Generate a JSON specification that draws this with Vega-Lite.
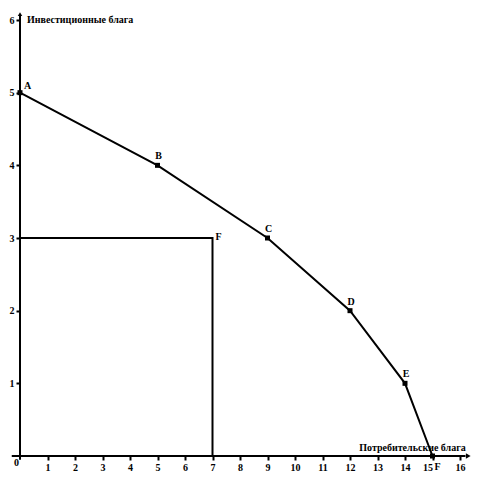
{
  "$schema": "https://vega.github.io/schema/vega-lite/v6.json",
  "width": 440,
  "height": 436,
  "autosize": {"type": "none"},
  "padding": {"left": 20, "top": 20, "right": 20, "bottom": 24},
  "background": "white",
  "config": {"view": {"stroke": null}, "font": "Liberation Serif", "text": {"font": "Liberation Serif", "fontWeight": "bold", "fontSize": 10, "color": "black"}},
  "datasets": {
    "ppf": [
      {"good_c": 0, "good_i": 5, "point": "A"},
      {"good_c": 5, "good_i": 4, "point": "B"},
      {"good_c": 9, "good_i": 3, "point": "C"},
      {"good_c": 12, "good_i": 2, "point": "D"},
      {"good_c": 14, "good_i": 1, "point": "E"},
      {"good_c": 15, "good_i": 0, "point": "F"}
    ],
    "inner": [
      {"good_c": 0, "good_i": 3, "order": 1, "point": ""},
      {"good_c": 7, "good_i": 3, "order": 2, "point": "F"},
      {"good_c": 7, "good_i": 0, "order": 3, "point": ""}
    ],
    "axislines": [
      {"good_c": -0.3, "good_c2": 16.2, "good_i": 0, "good_i2": 0, "part": "x"},
      {"good_c": 0, "good_c2": 0, "good_i": -0.05, "good_i2": 6.06, "part": "y"}
    ],
    "arrows": [
      {"good_c": 16.3, "good_i": 0, "part": "x"},
      {"good_c": 0, "good_i": 6.08, "part": "y"}
    ],
    "captions": [
      {"good_c": 0, "good_i": 0, "label": "0", "part": "origin"},
      {"good_c": 0, "good_i": 6, "label": "Инвестиционные блага", "part": "y"},
      {"good_c": 16.1, "good_i": 0, "label": "Потребительские блага", "part": "x"}
    ]
  },
  "encoding": {
    "x": {"field": "good_c", "type": "quantitative", "scale": {"domain": [0, 16], "nice": false, "zero": false},
      "axis": {"domain": false, "grid": false, "values": [1,2,3,4,5,6,7,8,9,10,11,12,13,14,15,16], "tickColor": "black", "tickWidth": 2, "tickSize": 4, "labelPadding": 2, "labelFont": "Liberation Serif", "labelFontWeight": "bold", "labelFontSize": 10, "labelColor": "black", "labelAlign": {"condition": {"test": "datum.value == 15", "value": "right"}, "value": "center"}, "labelOverlap": false, "title": null}},
    "y": {"field": "good_i", "type": "quantitative", "scale": {"domain": [0, 6], "nice": false, "zero": false},
      "axis": {"domain": false, "grid": false, "values": [1,2,3,4,5,6], "tickColor": "black", "tickWidth": 2, "tickSize": 4, "labelPadding": 2, "labelFont": "Liberation Serif", "labelFontWeight": "bold", "labelFontSize": 10, "labelColor": "black", "title": null}}
  },
  "layer": [
    {
      "data": {"name": "axislines"},
      "mark": {"type": "rule", "color": "black", "strokeWidth": 2},
      "encoding": {"x2": {"field": "good_c2"}, "y2": {"field": "good_i2"}}
    },
    {
      "data": {"name": "arrows"},
      "transform": [{"filter": "datum.part == 'x'"}],
      "mark": {"type": "point", "shape": "triangle-right", "filled": true, "color": "black", "size": 30, "opacity": 1},
      "encoding": {}
    },
    {
      "data": {"name": "arrows"},
      "transform": [{"filter": "datum.part == 'y'"}],
      "mark": {"type": "point", "shape": "triangle-up", "filled": true, "color": "black", "size": 20, "opacity": 1},
      "encoding": {}
    },
    {
      "data": {"name": "ppf"},
      "mark": {"type": "line", "color": "black", "strokeWidth": 2},
      "encoding": {}
    },
    {
      "data": {"name": "ppf"},
      "mark": {"type": "square", "color": "black", "size": 25, "opacity": 1},
      "encoding": {}
    },
    {
      "data": {"name": "inner"},
      "mark": {"type": "line", "color": "black", "strokeWidth": 2},
      "encoding": {"order": {"field": "order"}}
    },
    {
      "data": {"name": "ppf"},
      "transform": [{"filter": "datum.point == 'A'"}],
      "mark": {"type": "text", "font": "Liberation Serif", "align": "left", "baseline": "middle", "dx": 4, "dy": -7, "fontWeight": "bold", "fontSize": 10, "color": "black"},
      "encoding": {"text": {"field": "point"}}
    },
    {
      "data": {"name": "ppf"},
      "transform": [{"filter": "datum.point != 'A' && datum.point != 'F'"}],
      "mark": {"type": "text", "font": "Liberation Serif", "align": "center", "baseline": "middle", "dx": 1, "dy": -9, "fontWeight": "bold", "fontSize": 10, "color": "black"},
      "encoding": {"text": {"field": "point"}}
    },
    {
      "data": {"name": "ppf"},
      "transform": [{"filter": "datum.point == 'F'"}],
      "mark": {"type": "text", "font": "Liberation Serif", "align": "left", "baseline": "top", "dx": 2, "dy": 6, "fontWeight": "bold", "fontSize": 10, "color": "black"},
      "encoding": {"text": {"field": "point"}}
    },
    {
      "data": {"name": "inner"},
      "transform": [{"filter": "datum.point == 'F'"}],
      "mark": {"type": "text", "font": "Liberation Serif", "align": "left", "baseline": "middle", "dx": 3, "dy": -1, "fontWeight": "bold", "fontSize": 10, "color": "black"},
      "encoding": {"text": {"field": "point"}}
    },
    {
      "data": {"name": "captions"},
      "transform": [{"filter": "datum.part == 'origin'"}],
      "mark": {"type": "text", "font": "Liberation Serif", "align": "right", "baseline": "top", "dx": -1, "dy": 2, "fontWeight": "bold", "fontSize": 10, "color": "black"},
      "encoding": {"text": {"field": "label"}}
    },
    {
      "data": {"name": "captions"},
      "transform": [{"filter": "datum.part == 'y'"}],
      "mark": {"type": "text", "font": "Liberation Serif", "align": "left", "baseline": "middle", "dx": 7, "dy": 0, "fontWeight": "bold", "fontSize": 10, "color": "black"},
      "encoding": {"text": {"field": "label"}}
    },
    {
      "data": {"name": "captions"},
      "transform": [{"filter": "datum.part == 'x'"}],
      "mark": {"type": "text", "font": "Liberation Serif", "align": "right", "baseline": "bottom", "dx": 3, "dy": -3, "fontWeight": "bold", "fontSize": 10, "color": "black"},
      "encoding": {"text": {"field": "label"}}
    }
  ]
}
